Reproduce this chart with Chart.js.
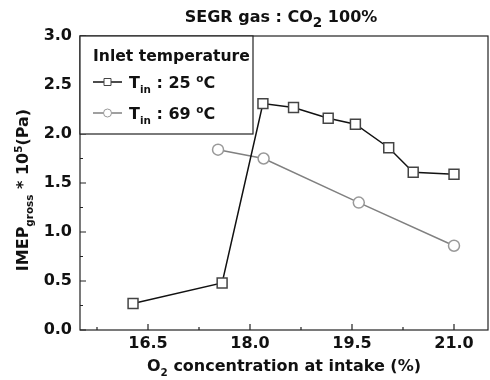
<!DOCTYPE html>
<html>
<head>
<meta charset="utf-8">
<script src="https://cdn.jsdelivr.net/npm/chart.js@4"></script>
<style>
  html, body { margin: 0; padding: 0; background: #fff; }
  #wrap { width: 490px; height: 380px; }
</style>
</head>
<body>
<div id="wrap"><canvas id="imepChart" width="490" height="380"></canvas></div>
<script>
// O2 concentration (%) and IMEP gross (x10^5 Pa)
const o2At25 = [16.28, 17.59, 18.19, 18.64, 19.15, 19.55, 20.04, 20.4, 21.0];
const imepAt25 = [0.27, 0.48, 2.31, 2.27, 2.16, 2.10, 1.86, 1.61, 1.59];
const o2At69 = [17.53, 18.2, 19.6, 21.0];
const imepAt69 = [1.84, 1.75, 1.30, 0.86];
const xTicks = [16.5, 18.0, 19.5, 21.0];
const yTicks = [0.0, 0.5, 1.0, 1.5, 2.0, 2.5, 3.0];

const FONT = '"DejaVu Sans", Verdana, sans-serif';

function toPoints(xs, ys) {
    return xs.map((x, i) => ({ x: x, y: ys[i] }));
}

// draw text pieces with sub/superscripts, returns total width
function richText(c, parts, x, y, size, measureOnly) {
    let cx = x;
    parts.forEach(p => {
        const s = p.sub || p.sup ? size * (p.big ? 0.85 : 0.65) : size;
        c.font = 'bold ' + s + 'px ' + FONT;
        const dy = p.sub ? size * 0.3 : (p.sup ? -size * 0.4 : 0);
        if (!measureOnly) c.fillText(p.t, cx, y + dy);
        cx += c.measureText(p.t).width;
    });
    return cx - x;
}

const framePlugin = {
    id: 'frame',
    afterDraw(chart) {
        const c = chart.ctx;
        const a = chart.chartArea;
        const xs = chart.scales.x, ys = chart.scales.y;
        c.save();
        c.strokeStyle = '#222';
        c.lineWidth = 1.2;
        c.strokeRect(a.left, a.top, a.right - a.left, a.bottom - a.top);

        // inward ticks
        c.beginPath();
        for (let v = 15.75; v <= 21.3; v += 0.75) {
            const px = xs.getPixelForValue(v);
            const major = xTicks.some(t => Math.abs(t - v) < 1e-6);
            c.moveTo(px, a.bottom);
            c.lineTo(px, a.bottom - (major ? 6 : 3));
        }
        for (let v = 0; v <= 3.001; v += 0.25) {
            const py = ys.getPixelForValue(v);
            const major = yTicks.some(t => Math.abs(t - v) < 1e-6);
            c.moveTo(a.left, py);
            c.lineTo(a.left + (major ? 6 : 3), py);
        }
        c.stroke();

        c.fillStyle = '#111';
        c.textBaseline = 'alphabetic';

        // title
        const titleParts = [{ t: 'SEGR gas : CO' }, { t: '2', sub: true, big: true }, { t: ' 100%' }];
        const tw = richText(c, titleParts, 0, 0, 16, true);
        richText(c, titleParts, 281 - tw / 2, 22, 16);

        // x axis title
        const xParts = [{ t: 'O' }, { t: '2', sub: true }, { t: ' concentration at intake (%)' }];
        const xw = richText(c, xParts, 0, 0, 16, true);
        richText(c, xParts, 284 - xw / 2, 371, 16);

        // y axis title
        const yParts = [{ t: 'IMEP' }, { t: 'gross', sub: true }, { t: ' * 10' }, { t: '5', sup: true }, { t: '(Pa)' }];
        const yw = richText(c, yParts, 0, 0, 16, true);
        c.save();
        c.translate(28, 190);
        c.rotate(-Math.PI / 2);
        richText(c, yParts, -yw / 2, 0, 16);
        c.restore();

        // legend box
        const lx = a.left, ly = a.top, lw = 173, lh = 98;
        c.fillStyle = '#fff';
        c.fillRect(lx, ly, lw, lh);
        c.strokeStyle = '#222';
        c.lineWidth = 1.2;
        c.strokeRect(lx, ly, lw, lh);
        c.fillStyle = '#111';
        c.font = 'bold 15.6px ' + FONT;
        c.fillText('Inlet temperature', lx + 13, ly + 25);

        const rows = [
            { ds: chart.data.datasets[0], temp: '25', y: ly + 46 },
            { ds: chart.data.datasets[1], temp: '69', y: ly + 77 }
        ];
        rows.forEach(r => {
            c.strokeStyle = r.ds.borderColor;
            c.lineWidth = 1.5;
            c.beginPath();
            c.moveTo(lx + 13, r.y);
            c.lineTo(lx + 42, r.y);
            c.stroke();
            c.fillStyle = '#fff';
            c.strokeStyle = r.ds.pointBorderColor;
            c.lineWidth = 1;
            c.beginPath();
            if (r.ds.pointStyle === 'rect') {
                c.rect(lx + 24, r.y - 3.5, 7, 7);
            } else {
                c.arc(lx + 27.5, r.y, 4, 0, Math.PI * 2);
            }
            c.fill();
            c.stroke();
            c.fillStyle = '#111';
            richText(c, [{ t: 'T' }, { t: 'in', sub: true }, { t: ' : ' + r.temp + ' ' }, { t: 'o', sup: true }, { t: 'C' }],
                lx + 49, r.y + 6, 16);
        });
        c.restore();
    }
};

new Chart(document.getElementById('imepChart'), {
    type: 'scatter',
    data: {
        datasets: [{
            label: 'Tin : 25 °C',
            data: toPoints(o2At25, imepAt25),
            showLine: true,
            borderColor: '#111',
            borderWidth: 1.5,
            pointStyle: 'rect',
            pointRadius: 7,
            pointBorderWidth: 1.5,
            pointBorderColor: '#444',
            pointBackgroundColor: '#fff',
            tension: 0
        }, {
            label: 'Tin : 69 °C',
            data: toPoints(o2At69, imepAt69),
            showLine: true,
            borderColor: '#808080',
            borderWidth: 1.5,
            pointStyle: 'circle',
            pointRadius: 5.5,
            pointBorderWidth: 1.5,
            pointBorderColor: '#999',
            pointBackgroundColor: '#fff',
            tension: 0
        }]
    },
    options: {
        responsive: false,
        animation: false,
        layout: { autoPadding: false, padding: { top: 36, right: 2, left: 0, bottom: 0 } },
        plugins: { legend: { display: false }, tooltip: { enabled: false } },
        scales: {
            x: {
                type: 'linear',
                min: 15.5,
                max: 21.5,
                afterFit: s => { s.height = 50; s.paddingLeft = 0; s.paddingRight = 0; },
                afterBuildTicks: s => { s.ticks = xTicks.map(v => ({ value: v })); },
                grid: { display: false, drawTicks: false },
                border: { display: false },
                ticks: {
                    padding: 4,
                    color: '#111',
                    font: { family: FONT, size: 16, weight: 'bold' },
                    callback: v => v.toFixed(1)
                }
            },
            y: {
                min: 0,
                max: 3,
                afterFit: s => { s.width = 80; s.paddingTop = 0; s.paddingBottom = 0; },
                afterBuildTicks: s => { s.ticks = yTicks.map(v => ({ value: v })); },
                grid: { display: false, drawTicks: false },
                border: { display: false },
                ticks: {
                    padding: 8,
                    color: '#111',
                    font: { family: FONT, size: 16, weight: 'bold' },
                    callback: v => v.toFixed(1)
                }
            }
        }
    },
    plugins: [framePlugin]
});
</script>
</body>
</html>
